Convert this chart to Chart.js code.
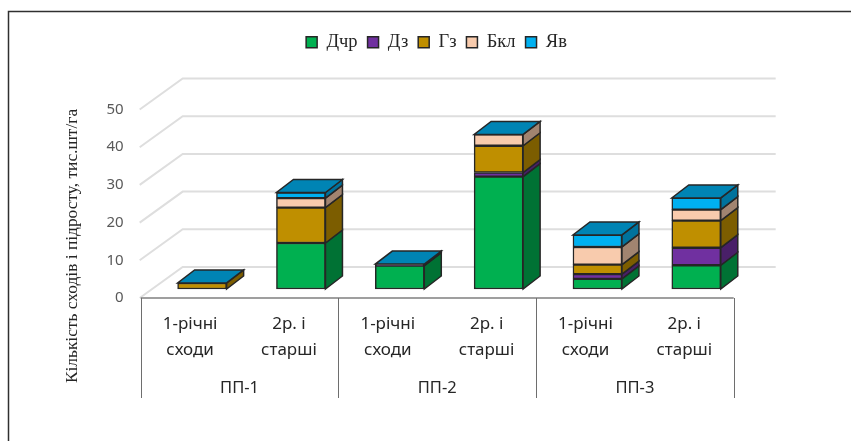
<!DOCTYPE html>
<html>
<head>
<meta charset="utf-8">
<style>
  html, body { margin: 0; padding: 0; background: #fff; }
  #wrap { width: 851px; height: 441px; }
</style>
<script src="https://cdn.jsdelivr.net/npm/chart.js@4"></script>
</head>
<body>
<div id="wrap"><canvas id="chart" width="851" height="441"></canvas></div>
<script>
// дані
const categories = [['1-річні', 'сходи'], ['2р. і', 'старші'], ['1-річні', 'сходи'], ['2р. і', 'старші'], ['1-річні', 'сходи'], ['2р. і', 'старші']];
const groups = ['ПП-1', 'ПП-2', 'ПП-3'];
const seriesNames = ['Дчр', 'Дз', 'Гз', 'Бкл', 'Яв'];
const dchr = [0, 12.2, 6.2, 29.8, 2.7, 6.3];
const dz = [0, 0, 0.1, 1.1, 1.25, 4.65];
const gz = [1.6, 9.4, 0.1, 7.1, 2.5, 7.2];
const bkl = [0, 2.5, 0.1, 3, 4.7, 2.9];
const yav = [0, 1.5, 0.1, 0, 3.2, 3.1];
const seriesValues = [dchr, dz, gz, bkl, yav];
const seriesColors = ['#00b050', '#7030a0', '#bf8f00', '#f8cbad', '#00b0f0'];
const yTicks = [0, 10, 20, 30, 40, 50];
const yTitle = 'Кількість сходів і підросту, тис.шт/га';

const EDGE = '#262626';
const SANS = '"Noto Sans", sans-serif';
const SERIF = '"Liberation Serif", serif';

// зміщення стін та стовпчиків для псевдо-3D
const WALL = { dx: 42, dy: -31 };
const BAR_SHIFT = { dx: 12, dy: -9 };
const DEPTH = { dx: 17, dy: -13 };

function shade(hex, k) {
  const n = parseInt(hex.slice(1), 16);
  const c = [n >> 16, (n >> 8) & 255, n & 255].map(v => Math.round(v * k));
  return `rgb(${c[0]},${c[1]},${c[2]})`;
}

function poly(ctx, pts, fill) {
  ctx.beginPath();
  pts.forEach((p, i) => (i ? ctx.lineTo(p[0], p[1]) : ctx.moveTo(p[0], p[1])));
  ctx.closePath();
  ctx.fillStyle = fill;
  ctx.fill();
  ctx.strokeStyle = EDGE;
  ctx.lineWidth = 1.5;
  ctx.stroke();
}

const fake3d = {
  id: 'fake3d',
  beforeDatasetsDraw(chart) {
    const { ctx, chartArea: a, scales: { y } } = chart;
    ctx.save();
    ctx.strokeStyle = '#dedede';
    ctx.lineWidth = 2;
    yTicks.forEach(v => {
      const py = y.getPixelForValue(v);
      ctx.beginPath();
      ctx.moveTo(a.left - 1, py);
      ctx.lineTo(a.left + WALL.dx, py + WALL.dy);
      ctx.lineTo(a.right + WALL.dx, py + WALL.dy);
      ctx.stroke();
    });
    ctx.restore();
    ctx.save();
    ctx.translate(BAR_SHIFT.dx, BAR_SHIFT.dy);
  },
  afterDatasetsDraw(chart) {
    const { ctx } = chart;
    const metas = seriesNames.map((_, i) => chart.getDatasetMeta(i));
    categories.forEach((_, idx) => {
      metas.forEach((meta, s) => {
        const b = meta.data[idx].getProps(['x', 'y', 'base', 'width']);
        const r = b.x + b.width / 2;
        if (seriesValues[s][idx] > 0) {
          poly(ctx, [[r, b.y], [r + DEPTH.dx, b.y + DEPTH.dy], [r + DEPTH.dx, b.base + DEPTH.dy], [r, b.base]], shade(seriesColors[s], 0.65));
        }
      });
      const t = metas[metas.length - 1].data[idx].getProps(['x', 'y', 'width']);
      const l = t.x - t.width / 2, r = t.x + t.width / 2;
      poly(ctx, [[l, t.y], [r, t.y], [r + DEPTH.dx, t.y + DEPTH.dy], [l + DEPTH.dx, t.y + DEPTH.dy]], shade(seriesColors[4], 0.75));
    });
    ctx.restore();
  },
  afterDraw(chart) {
    const { ctx, chartArea: a } = chart;
    ctx.save();
    // рамка: лише верх і ліво
    ctx.strokeStyle = '#303030';
    ctx.lineWidth = 1.5;
    ctx.beginPath();
    ctx.moveTo(8.5, 441);
    ctx.lineTo(8.5, 11.5);
    ctx.lineTo(851, 11.5);
    ctx.stroke();
    // вісь і роздільники груп
    ctx.strokeStyle = '#7f7f7f';
    ctx.lineWidth = 1.5;
    ctx.beginPath();
    ctx.moveTo(a.left, a.bottom);
    ctx.lineTo(a.right, a.bottom);
    ctx.stroke();
    ctx.lineWidth = 1;
    ctx.strokeStyle = '#6e6e6e';
    for (let i = 0; i <= groups.length; i++) {
      const x = Math.round(a.left + (a.right - a.left) * i / groups.length) + 0.5;
      ctx.beginPath();
      ctx.moveTo(x, a.bottom);
      ctx.lineTo(x, 398);
      ctx.stroke();
    }
    // підпис осі Y
    ctx.translate(72, 246);
    ctx.rotate(-Math.PI / 2);
    ctx.fillStyle = '#262626';
    ctx.font = '17.4px ' + SERIF;
    ctx.textAlign = 'center';
    ctx.textBaseline = 'middle';
    ctx.fillText(yTitle, 0, 0);
    ctx.restore();
  }
};

new Chart(document.getElementById('chart'), {
  type: 'bar',
  data: {
    labels: categories,
    datasets: seriesNames.map((name, i) => ({
      label: name,
      data: seriesValues[i],
      backgroundColor: seriesColors[i],
      borderColor: EDGE,
      borderWidth: 1.5,
      borderSkipped: false,
      barThickness: 49,
      xAxisID: 'x',
      yAxisID: 'y',
      clip: false
    }))
  },
  options: {
    responsive: false,
    animation: false,
    layout: { padding: { top: 23, left: 22, right: 0, bottom: 42 } },
    plugins: {
      tooltip: { enabled: false },
      legend: {
        position: 'top',
        labels: {
          boxWidth: 11,
          boxHeight: 11,
          padding: 10,
          color: '#262626',
          font: { family: SERIF, size: 18.5 }
        }
      }
    },
    scales: {
      // порожня вісь зверху: тримає місце під легендою
      xt: {
        type: 'category',
        labels: groups,
        position: 'top',
        grid: { display: false },
        border: { display: false },
        ticks: { display: false },
        afterFit: s => { s.height = 48; }
      },
      x: {
        stacked: true,
        position: 'bottom',
        grid: { display: false },
        border: { display: false },
        afterFit: s => { s.height = 63; },
        ticks: {
          autoSkip: false,
          maxRotation: 0,
          padding: 5,
          color: '#262626',
          font: { family: SANS, size: 17, lineHeight: 1.53 }
        }
      },
      x2: {
        type: 'category',
        labels: groups,
        position: 'bottom',
        grid: { display: false },
        border: { display: false },
        afterFit: s => { s.height = 38; },
        ticks: {
          padding: 9,
          color: '#262626',
          font: { family: SANS, size: 16.5 }
        }
      },
      y: {
        stacked: true,
        min: 0,
        max: 50,
        position: 'left',
        grid: { display: false },
        border: { display: false },
        afterFit: s => { s.width = 118.7; },
        afterBuildTicks: s => { s.ticks = yTicks.map(value => ({ value })); },
        ticks: {
          padding: 9,
          color: '#595959',
          font: { family: SANS, size: 15 }
        }
      },
      yr: {
        position: 'right',
        grid: { display: false },
        border: { display: false },
        ticks: { display: false },
        afterFit: s => { s.width = 117.3; }
      }
    }
  },
  plugins: [fake3d]
});
</script>
</body>
</html>
